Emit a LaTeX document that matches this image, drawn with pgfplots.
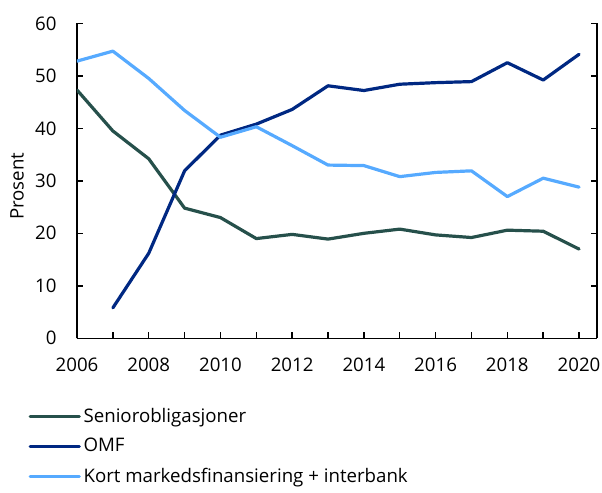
\documentclass[border=0pt]{standalone}
\usepackage{fontspec}
\setmainfont{Open Sans}
\usepackage{pgfplots}
\pgfplotsset{compat=1.18}
\definecolor{cgreen}{RGB}{38,80,75}
\definecolor{cnavy}{RGB}{0,40,130}
\definecolor{clight}{RGB}{86,170,255}
\newcommand\cf{\fontsize{14pt}{16.5pt}\selectfont}
\begin{document}
\cf
\begin{tikzpicture}
\begin{axis}[
  name=ax,
  scale only axis,
  width=390pt, height=236.25pt,
  xmin=2006, xmax=2020.5, ymin=0, ymax=60,
  axis x line*=bottom, axis y line*=box,
  tick align=inside,
  yticklabel pos=left,
  major tick length=4.5pt,
  axis line style={black, line width=1.1pt},
  x axis line style={black, line width=1.1pt},
  y axis line style={black, line width=1.1pt},
  every tick/.style={black, line width=1.1pt},
  xtick={2006,...,2020},
  xticklabels={2006,,2008,,2010,,2012,,2014,,2016,,2018,,2020},
  ytick={0,10,...,60},
  yticklabels={0,10,20,30,40,50,60},
  xticklabel style={yshift=-10pt, font=\cf},
  yticklabel style={xshift=-10.5pt, font=\cf},
  ylabel={Prosent},
  every axis y label/.style={at={(axis description cs:-0.1154,0.483)}, rotate=90, anchor=center, font=\cf},
  legend style={at={(axis description cs:-0.0935,-0.213)}, anchor=north west, draw=none, fill=none,
    font=\cf, row sep=5.8pt, inner sep=0pt,
    nodes={inner sep=2pt}},
  legend cell align=left,
  legend image code/.code={\draw[#1, line width=2.2pt] (0pt,0pt) -- (37pt,0pt);},
  every axis plot/.append style={line width=2.4pt, line cap=round, line join=round},
]
\addplot[cgreen] coordinates {
 (2006,47.3) (2007,39.5) (2008,34.2) (2009,24.8) (2010,23.0) (2011,19.0) (2012,19.8)
 (2013,18.9) (2014,20.0) (2015,20.8) (2016,19.7) (2017,19.2) (2018,20.6) (2019,20.4) (2020,17.0)};
\addlegendentry{Seniorobligasjoner}
\addplot[cnavy] coordinates {
 (2007,5.8) (2008,16.2) (2009,31.9) (2010,38.7) (2011,40.8) (2012,43.6)
 (2013,48.1) (2014,47.2) (2015,48.4) (2016,48.7) (2017,48.9) (2018,52.5) (2019,49.2) (2020,54.1)};
\addlegendentry{OMF}
\addplot[clight] coordinates {
 (2006,52.8) (2007,54.7) (2008,49.5) (2009,43.4) (2010,38.3) (2011,40.3) (2012,36.7)
 (2013,33.0) (2014,32.9) (2015,30.8) (2016,31.6) (2017,31.9) (2018,27.0) (2019,30.5) (2020,28.8)};
\addlegendentry{Kort markedsfinansiering + interbank}
\end{axis}
\pgfresetboundingbox
\path[use as bounding box] ([xshift=-57.75pt,yshift=17.5pt]ax.north west) rectangle ([xshift=3.75pt,yshift=-115.3pt]ax.south east);
\end{tikzpicture}
\end{document}
